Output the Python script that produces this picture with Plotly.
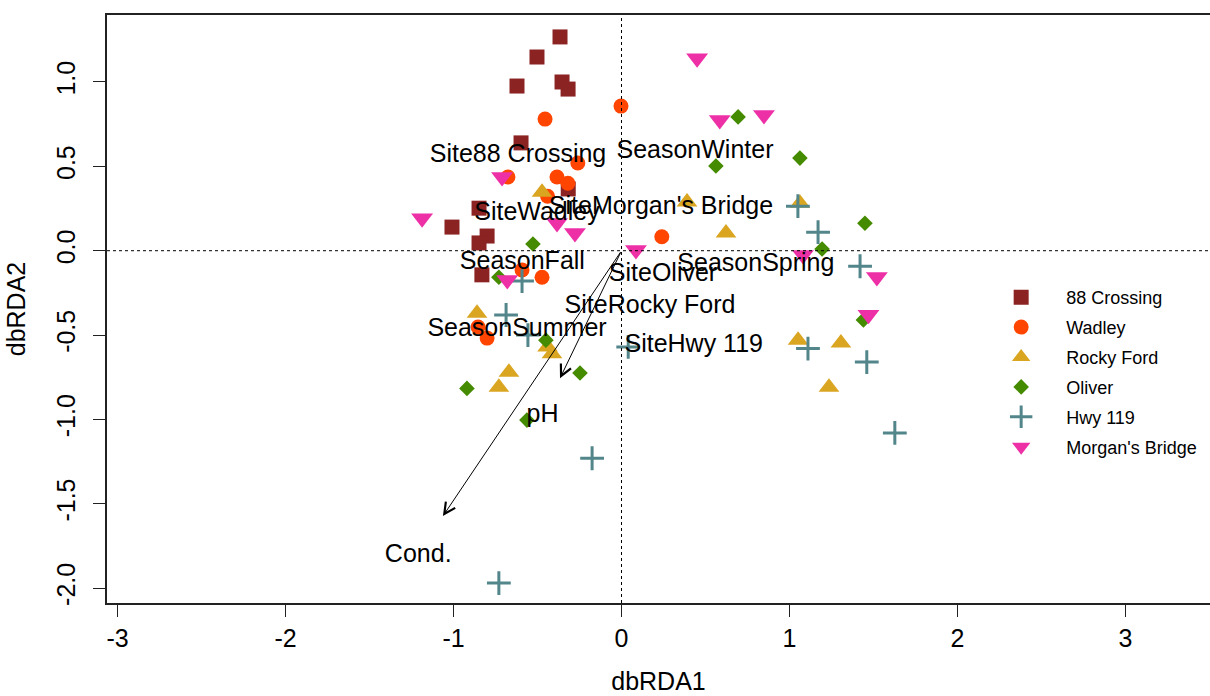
import plotly.graph_objects as go

# ---- data ----
sites = ["88 Crossing", "Wadley", "Rocky Ford", "Oliver", "Hwy 119", "Morgan's Bridge"]

x_88 = [-0.366, -0.503, -0.622, -0.354, -0.318, -0.598, -0.317, -0.848, -1.009, -0.800, -0.848, -0.831]
y_88 = [1.267, 1.148, 0.976, 1.000, 0.958, 0.639, 0.366, 0.252, 0.140, 0.087, 0.046, -0.143]

x_wad = [-0.003, -0.455, -0.260, -0.676, -0.384, -0.319, -0.440, 0.240, -0.592, -0.473, -0.854, -0.800]
y_wad = [0.857, 0.780, 0.520, 0.437, 0.437, 0.400, 0.323, 0.083, -0.114, -0.157, -0.452, -0.518]

x_rf = [-0.473, 0.390, 1.062, 0.622, 1.051, 1.306, 1.235, -0.860, -0.440, -0.414, -0.670, -0.730]
y_rf = [0.347, 0.288, 0.282, 0.105, -0.531, -0.547, -0.810, -0.370, -0.570, -0.610, -0.720, -0.810]

x_ol = [0.694, 1.062, 0.562, 1.449, 1.194, -0.527, -0.730, -0.450, -0.247, -0.920, -0.563, 1.440]
y_ol = [0.793, 0.549, 0.502, 0.163, 0.010, 0.040, -0.157, -0.530, -0.725, -0.816, -1.004, -0.410]

x_hwy = [1.050, 1.170, 1.420, 1.460, 1.627, 1.110, -0.592, -0.687, -0.557, 0.040, -0.175, -0.730]
y_hwy = [0.264, 0.110, -0.092, -0.660, -1.080, -0.580, -0.180, -0.381, -0.500, -0.570, -1.230, -1.970]

x_mb = [0.450, 0.585, 0.848, 0.086, 1.080, 1.520, 1.470, -0.711, -1.187, -0.384, -0.277, -0.680]
y_mb = [1.141, 0.775, 0.804, 0.004, -0.025, -0.156, -0.380, 0.437, 0.193, 0.164, 0.105, -0.174]

centroid_labels = ["Site88 Crossing", "SeasonWinter", "SiteWadley", "SiteMorgan's Bridge", "SeasonFall",
                   "SiteOliver", "SeasonSpring", "SiteRocky Ford", "SeasonSummer", "SiteHwy 119"]
centroid_x = [-0.616, 0.4375, -0.503, 0.235, -0.590, 0.247, 0.800, 0.170, -0.622, 0.430]
centroid_y = [0.561, 0.585, 0.218, 0.252, -0.073, -0.144, -0.085, -0.335, -0.470, -0.565]

vector_names = ["pH", "Cond."]
vector_x = [-0.366, -1.063]
vector_y = [-0.756, -1.573]
vector_label_x = [-0.470, -1.210]
vector_label_y = [-0.980, -1.805]

x_ticks = [-3, -2, -1, 0, 1, 2, 3]
x_ticktext = ["-3", "-2", "-1", "0", "1", "2", "3"]
y_ticks = [-2.0, -1.5, -1.0, -0.5, 0.0, 0.5, 1.0]
y_ticktext = ["-2.0", "-1.5", "-1.0", "-0.5", "0.0", "0.5", "1.0"]

# ---- styling ----
colors = ["#8B2323", "#FF4500", "#DAA520", "#458B00", "#53868B", "#EE30A7"]
symbols = ["square", "circle", "triangle-up", "diamond", "cross-thin", "triangle-down"]
sizes = [15, 15, 18, 12, 17, 19]
FONT = "Liberation Sans, Arial, sans-serif"

fig = go.Figure()

series = [(x_88, y_88), (x_wad, y_wad), (x_rf, y_rf), (x_ol, y_ol), (x_hwy, y_hwy), (x_mb, y_mb)]
for i, (xs, ys) in enumerate(series):
    mk = dict(symbol=symbols[i], size=sizes[i], color=colors[i])
    if symbols[i] == "cross-thin":
        mk["line"] = dict(color=colors[i], width=3)
    else:
        mk["line"] = dict(width=0)
    fig.add_trace(go.Scatter(x=xs, y=ys, mode="markers", name=sites[i], marker=mk,
                             legendgroup=sites[i]))

fig.add_trace(go.Scatter(x=centroid_x, y=centroid_y, mode="text", text=centroid_labels,
                         textfont=dict(family=FONT, size=25, color="black"),
                         showlegend=False, hoverinfo="skip"))
fig.add_trace(go.Scatter(x=vector_label_x, y=vector_label_y, mode="text", text=vector_names,
                         textfont=dict(family=FONT, size=25, color="black"),
                         showlegend=False, hoverinfo="skip"))

for vx, vy in zip(vector_x, vector_y):
    fig.add_annotation(x=vx, y=vy, ax=0, ay=0, xref="x", yref="y", axref="x", ayref="y",
                       showarrow=True, arrowhead=5, arrowsize=2.2, arrowwidth=1,
                       arrowcolor="black", text="")

fig.add_shape(type="line", xref="x", yref="paper", x0=0, x1=0, y0=0, y1=1,
              line=dict(color="black", width=1, dash="dot"))
fig.add_shape(type="line", xref="paper", yref="y", x0=0, x1=1, y0=0, y1=0,
              line=dict(color="black", width=1, dash="dot"))

fig.update_layout(
    width=1210, height=696,
    margin=dict(l=107, r=0, t=15, b=93),
    paper_bgcolor="white", plot_bgcolor="white",
    font=dict(family=FONT, size=25, color="black"),
    showlegend=True,
    legend=dict(x=0.788, y=0.551, xanchor="left", yanchor="top",
                font=dict(family=FONT, size=18, color="black"),
                itemwidth=80, tracegroupgap=3.5, bgcolor="rgba(0,0,0,0)"),
)
fig.update_xaxes(range=[-3.0625, 3.503], tickvals=x_ticks, ticktext=x_ticktext,
                 showgrid=False, zeroline=False, showline=True, mirror=True,
                 linecolor="#222", linewidth=1.5, ticks="outside", ticklen=12,
                 tickcolor="#222", tickfont=dict(size=25),
                 title=dict(text="dbRDA1", font=dict(size=25), standoff=22))
fig.update_yaxes(range=[-2.088, 1.397], tickvals=y_ticks, ticktext=y_ticktext,
                 showgrid=False, zeroline=False, showline=True, mirror=False,
                 linecolor="#222", linewidth=1.5, ticks="outside", ticklen=12,
                 tickcolor="#222", tickangle=-90, tickfont=dict(size=25),
                 ticklabelstandoff=8,
                 title=dict(text="dbRDA2", font=dict(size=25), standoff=20))

fig.write_html("out.html", config={"displayModeBar": False},
               post_script="document.body.style.margin='0';document.body.style.overflow='hidden';")
